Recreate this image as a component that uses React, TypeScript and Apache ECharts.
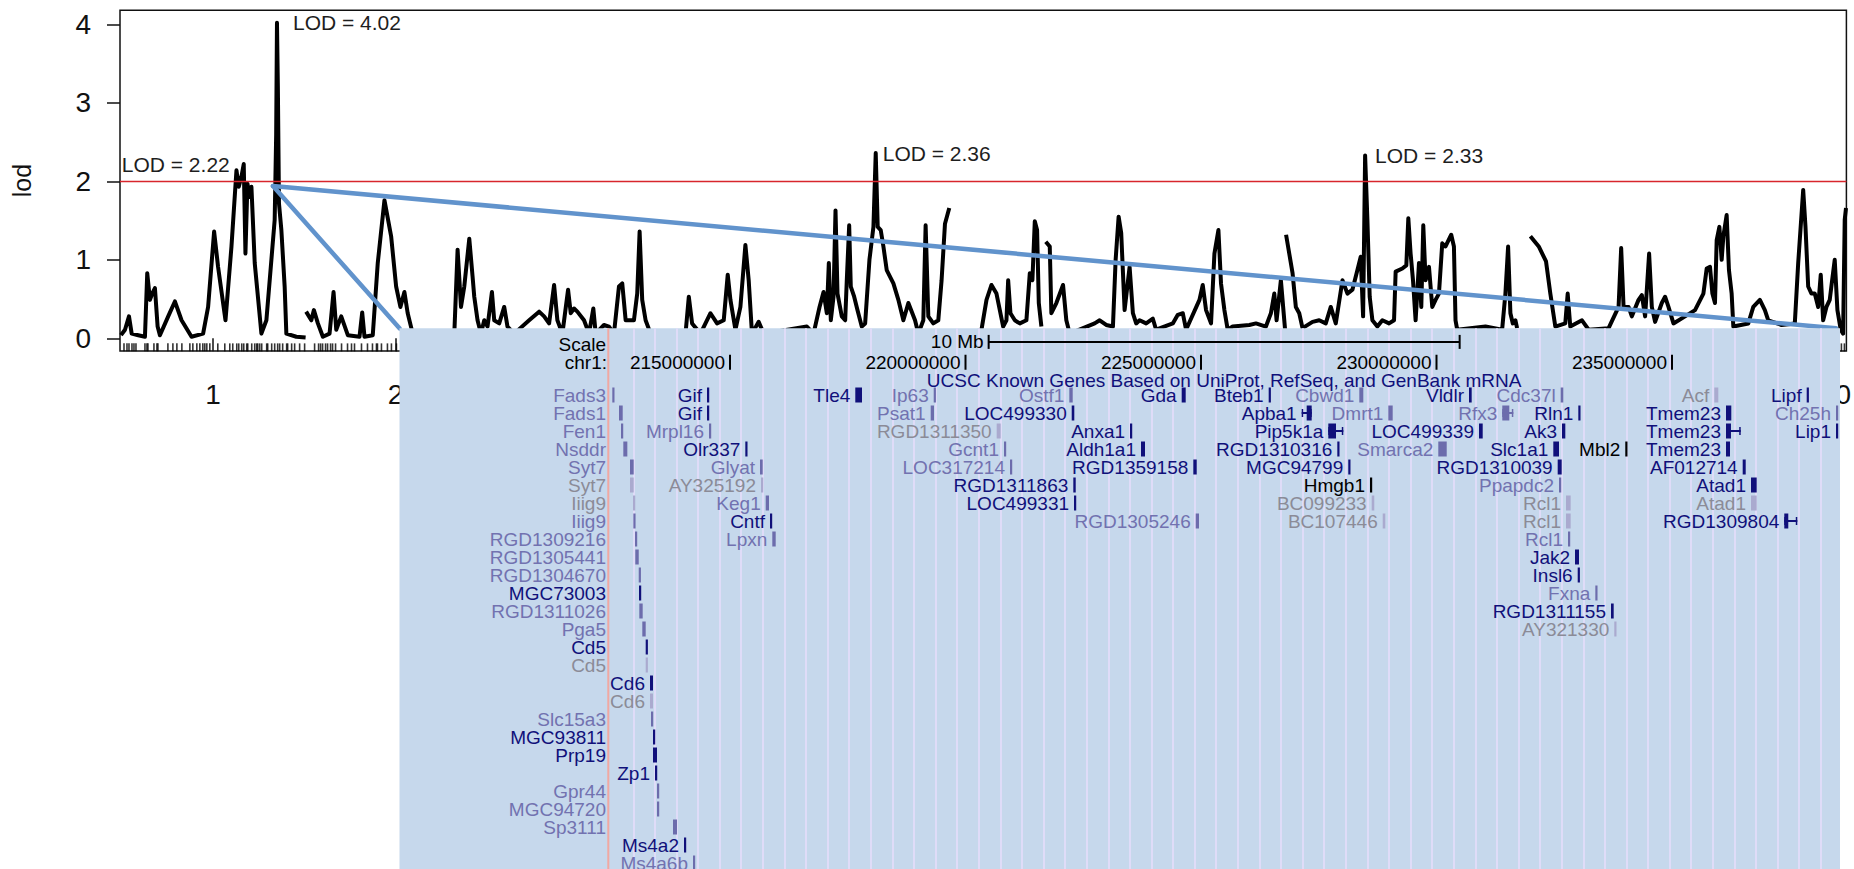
import React, { useEffect, useRef } from "react";
import * as echarts from "echarts";

const FONT = '"Liberation Sans", Arial, Helvetica, sans-serif';

// ---------------- Genome scan: cumulative position (cM) and LOD score ----------------
const lodChr1: number[][] = [
  [1, 0.04], [5, 0.11], [9, 0.28], [11.7, 0.06], [18.3, 0.04], [25, 0.02], [27.3, 0.83], [30, 0.49],
  [32.3, 0.57], [35, 0.64], [37.7, 0.15], [40, 0.04], [48.3, 0.28], [55, 0.47], [61.7, 0.23], [71.7, 0.02],
  [83.3, 0.06], [88.3, 0.4], [94.3, 1.36], [98.3, 0.91], [105.7, 0.23], [111.7, 1.17], [116.7, 2.14],
  [119, 1.93], [121.7, 2.06], [124, 2.22], [125.7, 1.08], [127.7, 1.97], [130, 1.8], [131.7, 1.93],
  [135, 0.96], [141.7, 0.06], [146.7, 0.23], [151.7, 1.0], [155, 1.51], [156.5, 2.6], [157.3, 4.02],
  [158.2, 3.2], [158.8, 2.4], [159.3, 1.72], [161.7, 1.38], [165, 0.66], [166.7, 0.06], [176.7, 0.02],
  [186, 0.01],
];

const lodBlockA: number[][] = [
  [186.5, 0.34], [191.7, 0.23], [194.3, 0.36], [198.3, 0.19], [203.3, 0.02], [210, 0.06], [214, 0.59],
  [216.7, 0.11], [221.7, 0.28], [228.3, 0.04], [240, 0.02], [242.7, 0.33], [245, 0.02], [253.3, 0.04],
  [258.3, 0.96], [265, 1.76], [271.7, 1.3], [276.7, 0.66], [281, 0.4], [285, 0.59], [288.3, 0.32],
  [293.3, 0.06], [315, 0.04], [335, 0.06], [338.3, 1.13], [341.7, 0.4], [345, 0.66], [350, 1.27],
  [353.3, 0.79], [355, 0.53], [358.3, 0.23], [361.7, 0.06], [365, 0.23], [368.3, 0.15], [372.7, 0.59],
  [375, 0.23], [380, 0.19], [385, 0.4], [388.3, 0.15], [395, 0.06], [410, 0.23], [420, 0.34], [425, 0.28],
  [430, 0.19], [435, 0.68], [438.3, 0.23], [443.3, 0.06], [449, 0.62], [451.7, 0.32], [455, 0.38],
  [458.3, 0.34], [465, 0.23], [470, 0.06], [474.3, 0.38], [476.7, 0.06], [485, 0.17], [490, 0.15],
  [495, 0.06], [500, 0.66], [503.3, 0.7], [506.7, 0.23], [515, 0.23], [518.3, 0.57], [520.7, 1.36],
  [523.3, 0.49], [526.7, 0.23], [531.7, 0.06], [566.7, 0.06], [570, 0.53], [573.3, 0.19], [581.7, 0.06],
  [591.7, 0.32], [598.3, 0.19], [605, 0.23], [609, 0.81], [611.7, 0.49], [616.7, 0.11], [621.7, 0.4],
  [626.7, 1.19], [630, 0.74], [633.3, 0.06], [640, 0.21], [645, 0.06], [688.3, 0.15], [695, 0.06],
  [701, 0.4], [705, 0.59], [708.3, 0.32], [710.3, 0.96], [712.3, 0.23], [715, 0.53], [717, 1.63],
  [719, 0.57], [723.3, 0.28], [726.7, 0.23], [728.3, 0.74], [730.7, 1.44], [732.3, 0.66], [735.7, 0.53],
  [739, 0.36], [743.3, 0.15], [746.7, 0.19], [751, 1.0], [755, 1.42], [757.3, 2.36], [759.3, 1.42],
  [762.3, 1.38], [765, 1.17], [768.3, 0.87], [775, 0.7], [780, 0.49], [785, 0.23], [790, 0.45],
  [796.7, 0.23], [800, 0.06], [805, 0.23], [807.3, 1.44], [810, 0.28], [815, 0.19], [820, 0.23],
  [823.3, 0.74], [826.7, 1.46], [831, 1.66],
];

const lodBlockB: number[][] = [
  [835, 0.08], [850, 0.05], [863.3, 0.11], [868.3, 0.49], [873.3, 0.68], [878.3, 0.57], [885, 0.15],
  [888.3, 0.23], [890, 0.74], [892.3, 0.32], [896.7, 0.23], [901.7, 0.19], [908.3, 0.23], [911.7, 0.83],
  [914.3, 0.74], [916.7, 1.49], [919, 1.38], [920.7, 0.45], [923.3, 0.15],
];

const lodBlockC: number[][] = [
  [927.7, 1.23], [931.7, 1.17], [933.3, 0.32], [938.3, 0.45], [945, 0.68], [948.3, 0.23], [951.7, 0.06],
  [976.7, 0.19], [981.7, 0.23], [988.3, 0.17], [995, 0.15], [997.7, 1.0], [1000.7, 1.55], [1003.3, 1.34],
  [1006.7, 0.36], [1011.7, 0.91], [1015, 0.32], [1018.3, 0.19], [1021.7, 0.23], [1028.3, 0.19],
  [1035, 0.25], [1038.3, 0.11], [1055, 0.19], [1060, 0.3], [1065, 0.32], [1068.3, 0.11], [1081.7, 0.49],
  [1085, 0.68], [1088.3, 0.36], [1093.3, 0.19], [1096.7, 1.08], [1100.7, 1.38], [1103.3, 0.7],
  [1106.7, 0.36], [1110, 0.11], [1115, 0.15], [1131.7, 0.17], [1138.3, 0.19], [1148.3, 0.15],
  [1153.3, 0.32], [1156.7, 0.57], [1159, 0.23], [1163.3, 0.74], [1166.7, 0.23], [1167.5, 0.11],
];

const lodBlockD: number[][] = [
  [1168.5, 1.32], [1175, 0.83], [1178.3, 0.4], [1181.7, 0.32], [1185, 0.13], [1195, 0.21], [1201.7, 0.23],
  [1208.3, 0.19], [1213.3, 0.4], [1218.3, 0.19], [1225, 0.74], [1230, 0.57], [1235, 0.62], [1240, 0.87],
  [1243.3, 1.04], [1245.7, 0.28], [1247.7, 2.33], [1250, 1.51], [1252.3, 0.53], [1255, 0.23], [1260, 0.15],
  [1265, 0.23], [1271.7, 0.19], [1276.7, 0.23], [1278.3, 0.85], [1285, 0.89], [1289, 0.93], [1291, 1.53],
  [1293.3, 1.08], [1295.7, 0.74], [1298.3, 0.23], [1301.7, 0.96], [1304, 0.4], [1306, 1.44],
  [1308.3, 0.74], [1311.7, 0.91], [1315, 0.4], [1318.3, 0.49], [1321.7, 0.57], [1325, 1.21],
  [1328.3, 1.17], [1334, 1.32], [1336.7, 1.17], [1338.3, 0.23], [1340, 0.11], [1368.3, 0.15],
  [1385, 0.11], [1388.3, 0.57], [1391, 1.17], [1393.3, 0.32], [1395.7, 0.19], [1398.3, 0.23], [1400, 0.13],
];

const lodBlockE: number[][] = [
  [1413.3, 1.3], [1421.7, 1.17], [1429, 0.98], [1433.3, 0.57], [1438.3, 0.15], [1448.3, 0.19],
  [1450.7, 0.57], [1453.3, 0.15], [1465, 0.23], [1471.7, 0.11], [1491.7, 0.13], [1501.7, 0.4],
  [1504.3, 1.15], [1506.7, 0.4], [1511.7, 0.4], [1515, 0.28], [1521.7, 0.49], [1525, 0.55], [1528.3, 0.28],
  [1532.3, 1.08], [1535, 0.4], [1538.3, 0.21], [1545, 0.45], [1548.3, 0.53], [1551.7, 0.4], [1556.7, 0.19],
  [1568.3, 0.28], [1578.3, 0.36], [1586.7, 0.57], [1590, 0.89], [1593.3, 0.91], [1595.7, 0.57],
  [1598.3, 0.45], [1600, 1.25], [1602.7, 1.42], [1605, 1.0], [1606.7, 1.3], [1610, 1.57], [1612.3, 0.87],
  [1615, 0.57], [1616.7, 0.15], [1631.7, 0.19], [1636.7, 0.4], [1643.3, 0.49], [1648.3, 0.36],
  [1651.7, 0.23], [1665, 0.17], [1678.3, 0.19], [1681.7, 0.96], [1686.7, 1.89], [1689, 1.42],
  [1691.7, 0.66], [1695, 0.57], [1698.3, 0.57], [1701.7, 0.4], [1704.3, 0.81], [1706.7, 0.23], [1710, 0.4],
  [1713.3, 0.49], [1715.7, 0.74], [1718.3, 1.0], [1721, 0.36], [1724.3, 0.11], [1726.7, 0.06],
  [1728.3, 1.51], [1729.6, 1.66],
];

const lodBlocks = [lodChr1, lodBlockA, lodBlockB, lodBlockC, lodBlockD, lodBlockE];

// genotyped marker positions (cM) shown as a rug
const markerPositions = [
  4, 7, 9, 12, 14, 16, 25, 27, 28, 34, 37, 38, 48, 53, 57, 62, 70, 73, 77, 80, 83, 85, 87, 90, 98, 105,
  110, 113, 117, 119, 122, 124, 127, 128, 132, 135, 137, 138, 140, 142, 147, 148, 152, 155, 158, 160, 163,
  167, 168, 172, 175, 180, 185, 195, 199, 201, 203, 206, 208, 211, 213, 216, 222, 228, 232, 235, 242, 248,
  253, 257, 258, 262, 268, 272, 277, 1722, 1725, 1728,
];

// chromosome label positions (cM)
const chromosomeCenters = [93.3, 276, 1719];
const chromosomeNames = ["1", "2", "20"];

const lodTicks = [0, 1, 2, 3, 4];
const lodThreshold = 2;

// annotated peaks [cM, LOD]
const peaks: number[][] = [
  [157.3, 4.02],
  [124, 2.22],
  [757.3, 2.36],
  [1247.7, 2.33],
];
// placement of each peak's text (px offset from the peak, side)
const peakLabelPlacement: [number, "left" | "right"][] = [
  [16, "left"],
  [-14, "right"],
  [7, "left"],
  [10, "left"],
];

// the region of chromosome 1 expanded in the browser panel
const zoomOrigin = [153.3, 1.94];

// ---------------- UCSC browser panel: chr1 window (Mb) ----------------
const windowStartMb = 212.416;
const windowEndMb = 238.567;
const rulerTicksMb = [215, 220, 225, 230, 235];
const scaleBarMb = 10;
const trackTitle = "UCSC Known Genes Based on UniProt, RefSeq, and GenBank mRNA";

// [name, row, txStart, txEnd, tone, cdsStart?, cdsEnd?]  (Mb); tone: k navy, m medium, g grey, b black
type Gene = [string, number, number, number, string, number?, number?];

const genesCd5Cluster: Gene[] = [
  ["Fads3", 1, 212.501, 212.531, "m"], ["Fads1", 2, 212.643, 212.722, "m"], ["Fen1", 3, 212.686, 212.722, "m"],
  ["Nsddr", 4, 212.735, 212.82, "m"], ["Syt7", 5, 212.877, 212.955, "m"], ["Syt7", 6, 212.877, 212.955, "g"],
  ["Iiig9", 7, 212.941, 212.983, "g"], ["Iiig9", 8, 212.948, 212.99, "m"], ["RGD1309216", 9, 212.983, 213.019, "m"],
  ["RGD1305441", 10, 212.989, 213.062, "m"], ["RGD1304670", 11, 213.062, 213.104, "m"],
  ["MGC73003", 12, 213.068, 213.11, "k"], ["RGD1311026", 13, 213.074, 213.146, "m"],
  ["Pga5", 14, 213.138, 213.21, "m"], ["Cd5", 15, 213.21, 213.253, "k"], ["Cd5", 16, 213.21, 213.253, "g"],
  ["Cd6", 17, 213.301, 213.365, "k"], ["Cd6", 18, 213.301, 213.365, "g"], ["Slc15a3", 19, 213.323, 213.365, "m"],
  ["MGC93811", 20, 213.365, 213.408, "k"], ["Prp19", 21, 213.365, 213.45, "k"], ["Zp1", 22, 213.408, 213.45, "k"],
  ["Gpr44", 23, 213.45, 213.493, "m"], ["MGC94720", 24, 213.45, 213.493, "m"], ["Sp3111", 25, 213.79, 213.875, "m"],
  ["Ms4a2", 26, 214.023, 214.066, "k"], ["Ms4a6b", 27, 214.214, 214.257, "m"],
];

const genes214to225: Gene[] = [
  ["Gif", 1, 214.512, 214.554, "k"], ["Gif", 2, 214.512, 214.554, "k"], ["Mrpl16", 3, 214.554, 214.59, "m"],
  ["Olr337", 4, 215.325, 215.361, "k"], ["Glyat", 5, 215.637, 215.694, "m"], ["AY325192", 6, 215.658, 215.694, "g"],
  ["Keg1", 7, 215.758, 215.828, "m"], ["Cntf", 8, 215.849, 215.892, "k"], ["Lpxn", 9, 215.898, 215.97, "m"],
  ["Tle4", 1, 217.66, 217.803, "k"], ["Ip63", 1, 219.325, 219.367, "m"], ["Psat1", 2, 219.261, 219.331, "m"],
  ["RGD1311350", 3, 220.662, 220.747, "g"], ["Gcnt1", 4, 220.817, 220.86, "m"], ["LOC317214", 5, 220.945, 220.987, "m"],
  ["Ostf1", 1, 222.204, 222.276, "m"], ["LOC499330", 2, 222.255, 222.31, "k"], ["RGD1311863", 6, 222.289, 222.34, "k"],
  ["LOC499331", 7, 222.304, 222.346, "k"], ["Anxa1", 3, 223.493, 223.535, "k"], ["Aldh1a1", 4, 223.726, 223.811, "k"],
  ["Gda", 1, 224.59, 224.675, "k"], ["RGD1359158", 5, 224.837, 224.909, "k"], ["RGD1305246", 8, 224.888, 224.958, "m"],
];

const genes226to239: Gene[] = [
  ["Bteb1", 1, 226.437, 226.48, "k"], ["Apba1", 2, 227.138, 227.35, "k", 227.244, 227.35],
  ["Pip5k1a", 3, 227.703, 228.021, "k", 227.703, 227.866], ["RGD1310316", 4, 227.894, 227.936, "k"],
  ["MGC94799", 5, 228.127, 228.17, "k"], ["Cbwd1", 1, 228.361, 228.446, "m"], ["Hmgb1", 6, 228.588, 228.631, "b"],
  ["BC099233", 7, 228.624, 228.679, "g"], ["BC107446", 8, 228.858, 228.913, "g"], ["Dmrt1", 2, 228.977, 229.07, "m"],
  ["Smarca2", 4, 230.038, 230.217, "m"], ["Vldlr", 1, 230.69, 230.747, "k"], ["LOC499339", 3, 230.902, 230.981, "k"],
  ["Rfx3", 2, 231.397, 231.631, "m", 231.397, 231.546], ["Slc1a1", 4, 232.48, 232.601, "k"],
  ["RGD1310039", 5, 232.573, 232.658, "k"], ["Ppapdc2", 6, 232.601, 232.643, "m"], ["Cdc37l", 1, 232.637, 232.692, "m"],
  ["Ak3", 3, 232.665, 232.735, "k"], ["Rcl1", 7, 232.749, 232.849, "g"], ["Rcl1", 8, 232.749, 232.849, "g"],
  ["Rcl1", 9, 232.792, 232.834, "m"], ["Jak2", 10, 232.941, 233.025, "k"], ["Insl6", 11, 232.998, 233.04, "k"],
  ["Rln1", 2, 233.011, 233.053, "k"], ["Fxna", 12, 233.372, 233.414, "m"], ["RGD1311155", 13, 233.705, 233.762, "k"],
  ["AY321330", 14, 233.775, 233.817, "g"], ["Mbl2", 4, 234.008, 234.051, "b"], ["Acf", 1, 235.898, 235.983, "g"],
  ["Tmem23", 2, 236.146, 236.259, "k"], ["Tmem23", 3, 236.146, 236.459, "k", 236.146, 236.252],
  ["Tmem23", 4, 236.146, 236.231, "k"], ["AF012714", 5, 236.501, 236.565, "k"], ["Atad1", 6, 236.677, 236.798, "k"],
  ["Atad1", 7, 236.677, 236.798, "g"], ["RGD1309804", 8, 237.384, 237.66, "k", 237.384, 237.469],
  ["Lipf", 1, 237.86, 237.902, "k"], ["Ch25h", 2, 238.482, 238.524, "m"], ["Lip1", 3, 238.482, 238.524, "k"],
];

const knownGenes: Gene[] = [...genesCd5Cluster, ...genes214to225, ...genes226to239];

const TONES: Record<string, { text: string; bar: string }> = {
  k: { text: "#10107a", bar: "#10107a" },
  m: { text: "#7272b0", bar: "#6c6cac" },
  g: { text: "#8b8b97", bar: "#aaaacf" },
  b: { text: "#000000", bar: "#000000" },
};

// ---------------- layout ----------------
const W = 1854;
const H = 869;
const PLOT = { left: 120, top: 10.2, width: 1730, height: 340.7 };
const PANEL = { left: 399.5, top: 328.3, right: 1840 };
const TRACK_LEFT = 608.3; // left edge of the browser's data area
const SIDE_LABEL_RIGHT = 606; // right edge of the side label column
const GUIDE_FIRST = 611.7;
const GUIDE_STEP = 21.59;
const ROW_MIN = -2.7056;
const ROW_MAX = 27.333;
const SCALE_ROW = -1.95;
const RULER_ROW = -0.82;
const TITLE_ROW = 0.21;
const BAR_H = 15;

const measureCtx = typeof document !== "undefined" ? document.createElement("canvas").getContext("2d") : null;
function textWidth(s: string, size: number) {
  if (!measureCtx) return s.length * size * 0.55;
  measureCtx.font = `${size}px "Liberation Sans", Arial, sans-serif`;
  return measureCtx.measureText(s).width;
}

function buildOption(): any {
  const lineSeries = lodBlocks.map((block, i) => ({
    type: "line",
    xAxisIndex: 0,
    yAxisIndex: 0,
    data: block,
    symbol: "none",
    showSymbol: false,
    silent: true,
    z: 2,
    lineStyle: { color: "#000", width: 4, join: "round" },
    markLine:
      i === 0
        ? {
            silent: true,
            symbol: ["none", "none"],
            label: { show: false },
            lineStyle: { color: "#d8262c", width: 1.4, type: "solid" },
            data: [{ yAxis: lodThreshold }],
          }
        : undefined,
  }));

  return {
    animation: false,
    backgroundColor: "#ffffff",
    grid: [
      { left: PLOT.left, top: PLOT.top, width: PLOT.width, height: PLOT.height, show: true, borderColor: "#111", borderWidth: 1.5, backgroundColor: "#fff" },
      { left: GUIDE_FIRST, top: PANEL.top, width: PANEL.right - GUIDE_FIRST, height: H - PANEL.top },
      { left: TRACK_LEFT, top: PANEL.top, width: PANEL.right - TRACK_LEFT, height: H - PANEL.top },
    ],
    xAxis: [
      {
        gridIndex: 0,
        type: "value",
        min: 0,
        max: 1730,
        axisLine: { show: false },
        splitLine: { show: false },
        axisTick: { show: true, customValues: chromosomeCenters, length: 13, lineStyle: { color: "#111", width: 1.5 } },
        axisLabel: {
          show: true,
          customValues: chromosomeCenters,
          formatter: (v: number) => chromosomeNames[chromosomeCenters.indexOf(v)] ?? "",
          fontSize: 28,
          fontFamily: FONT,
          color: "#111",
          margin: 30,
        },
      },
      {
        gridIndex: 1,
        type: "value",
        min: 0,
        max: (PANEL.right - GUIDE_FIRST) / GUIDE_STEP,
        interval: 1,
        z: 10,
        axisLine: { show: false },
        axisTick: { show: false },
        axisLabel: { show: false },
        splitLine: { show: true, showMinLine: false, showMaxLine: false, lineStyle: { color: "#dfdcf8", width: 2 } },
      },
      { gridIndex: 2, type: "value", min: windowStartMb, max: windowEndMb, show: false },
    ],
    yAxis: [
      {
        gridIndex: 0,
        type: "value",
        min: -0.16,
        max: 4.18,
        axisLine: { show: false },
        splitLine: { show: false },
        axisTick: { show: true, customValues: lodTicks, length: 13, lineStyle: { color: "#111", width: 1.5 } },
        axisLabel: { show: true, customValues: lodTicks, fontSize: 28, fontFamily: FONT, color: "#111", margin: 29 },
        name: "lod",
        nameLocation: "middle",
        nameGap: 86,
        nameTextStyle: { fontSize: 25, fontFamily: FONT, color: "#111" },
      },
      { gridIndex: 1, type: "value", min: 0, max: 1, show: false },
      { gridIndex: 2, type: "value", min: ROW_MIN, max: ROW_MAX, inverse: true, show: false },
    ],
    graphic: [
      {
        type: "rect",
        z: 9,
        silent: true,
        shape: { x: PANEL.left, y: PANEL.top, width: PANEL.right - PANEL.left, height: H - PANEL.top + 2 },
        style: { fill: "#c6d8ec" },
      },
      {
        type: "line",
        z: 11,
        silent: true,
        shape: { x1: TRACK_LEFT, y1: PANEL.top, x2: TRACK_LEFT, y2: H + 2 },
        style: { stroke: "#f1a8a2", lineWidth: 2 },
      },
    ],
    series: [
      ...lineSeries,
      {
        type: "scatter",
        xAxisIndex: 0,
        yAxisIndex: 0,
        silent: true,
        z: 3,
        symbol: "rect",
        symbolSize: [1.6, 8],
        itemStyle: { color: "#000" },
        data: markerPositions.map((x) => [x, -0.115]),
      },
      {
        // peak annotations
        type: "custom",
        xAxisIndex: 0,
        yAxisIndex: 0,
        silent: true,
        z: 4,
        data: peaks,
        renderItem: (params: any, api: any) => {
          const [x, y] = api.coord([api.value(0), api.value(1)]);
          const [dx, align] = peakLabelPlacement[params.dataIndex];
          return {
            type: "text",
            style: {
              text: `LOD = ${Number(api.value(1)).toFixed(2)}`,
              x: x + dx,
              y,
              align,
              verticalAlign: "middle",
              fontSize: 21,
              fontFamily: FONT,
              fill: "#1e1e1e",
            },
          };
        },
      },
      {
        // lines joining the expanded region to the browser panel
        type: "custom",
        xAxisIndex: 0,
        yAxisIndex: 0,
        silent: true,
        z: 5,
        data: [zoomOrigin],
        renderItem: (_params: any, api: any) => {
          const [x, y] = api.coord([api.value(0), api.value(1)]);
          const style = { stroke: "#6193cc", lineWidth: 4.5, lineCap: "round" };
          return {
            type: "group",
            children: [
              { type: "line", shape: { x1: x, y1: y, x2: PANEL.left, y2: PANEL.top }, style },
              { type: "line", shape: { x1: x, y1: y, x2: PANEL.right - 4, y2: PANEL.top }, style },
            ],
          };
        },
      },
      {
        // base-position ruler
        type: "custom",
        xAxisIndex: 2,
        yAxisIndex: 2,
        silent: true,
        z: 20,
        data: rulerTicksMb.map((v) => [v]),
        renderItem: (_params: any, api: any) => {
          const v = api.value(0);
          const [x, y] = api.coord([v, RULER_ROW]);
          return {
            type: "group",
            children: [
              { type: "rect", shape: { x: x - 1, y: y - 7.5, width: 2, height: 15 }, style: { fill: "#000" } },
              {
                type: "text",
                style: { text: String(Math.round(v * 1e6)), x: x - 5, y, align: "right", verticalAlign: "middle", fontSize: 19, fontFamily: FONT, fill: "#000" },
              },
            ],
          };
        },
      },
      {
        // scale bar, centred in the window
        type: "custom",
        xAxisIndex: 2,
        yAxisIndex: 2,
        silent: true,
        z: 20,
        data: [[(windowStartMb + windowEndMb - scaleBarMb) / 2, (windowStartMb + windowEndMb + scaleBarMb) / 2]],
        renderItem: (_params: any, api: any) => {
          const [x0, y] = api.coord([api.value(0), SCALE_ROW]);
          const [x1] = api.coord([api.value(1), SCALE_ROW]);
          const [, yScale] = api.coord([api.value(0), -1.83]);
          const [, yChr] = api.coord([api.value(0), RULER_ROW]);
          const [, yTitle] = api.coord([api.value(0), TITLE_ROW]);
          const trackMid = (TRACK_LEFT + PANEL.right) / 2;
          const txt = (text: string, x: number, yy: number, align: string, fill = "#000") => ({
            type: "text",
            style: { text, x, y: yy, align, verticalAlign: "middle", fontSize: 19, fontFamily: FONT, fill },
          });
          return {
            type: "group",
            children: [
              { type: "rect", shape: { x: x0, y: y - 1, width: x1 - x0, height: 2 }, style: { fill: "#000" } },
              { type: "rect", shape: { x: x0 - 1, y: y - 7, width: 2, height: 14 }, style: { fill: "#000" } },
              { type: "rect", shape: { x: x1 - 1, y: y - 7, width: 2, height: 14 }, style: { fill: "#000" } },
              txt(`${scaleBarMb} Mb`, x0 - 5, y, "right"),
              txt("Scale", SIDE_LABEL_RIGHT, yScale, "right"),
              txt("chr1:", SIDE_LABEL_RIGHT + 1, yChr, "right"),
              txt(trackTitle, trackMid, yTitle, "center", "#10107a"),
            ],
          };
        },
      },
      {
        // gene models with names
        type: "custom",
        xAxisIndex: 2,
        yAxisIndex: 2,
        silent: true,
        z: 20,
        encode: { x: [0, 2], y: 1 },
        data: knownGenes.map((g) => [g[2], g[1], g[3]]),
        renderItem: (params: any, api: any) => {
          const g = knownGenes[params.dataIndex];
          const [name, row, s, e, tone, cs, ce] = g;
          const tc = TONES[tone];
          const [xs, yc] = api.coord([s, row]);
          const xe = Math.max(api.coord([e, row])[0], xs + 2.2);
          const children: any[] = [];
          if (cs != null && ce != null) {
            const xcs = api.coord([cs, row])[0];
            const xce = Math.max(api.coord([ce, row])[0], xcs + 2.2);
            children.push({ type: "rect", shape: { x: xs, y: yc - 1, width: xe - xs, height: 2 }, style: { fill: tc.bar } });
            children.push({ type: "rect", shape: { x: xs, y: yc - 4, width: 1.5, height: 8 }, style: { fill: tc.bar } });
            children.push({ type: "rect", shape: { x: xe - 1.5, y: yc - 4, width: 1.5, height: 8 }, style: { fill: tc.bar } });
            children.push({ type: "rect", shape: { x: xcs, y: yc - BAR_H / 2, width: xce - xcs, height: BAR_H }, style: { fill: tc.bar } });
          } else {
            children.push({ type: "rect", shape: { x: xs, y: yc - BAR_H / 2, width: xe - xs, height: BAR_H }, style: { fill: tc.bar } });
          }
          let right = xs - 5;
          if (right - textWidth(name, 19) < TRACK_LEFT) right = SIDE_LABEL_RIGHT;
          children.push({
            type: "text",
            style: { text: name, x: right, y: yc, align: "right", verticalAlign: "middle", fontSize: 19, fontFamily: FONT, fill: tc.text },
          });
          return { type: "group", children };
        },
      },
    ],
  };
}

export default function App() {
  const ref = useRef<HTMLDivElement>(null);
  useEffect(() => {
    document.body.style.margin = "0";
    const chart = echarts.init(ref.current!, null, { renderer: "svg" });
    chart.setOption(buildOption());
    return () => chart.dispose();
  }, []);
  return <div ref={ref} style={{ position: "absolute", left: 0, top: 0, width: W, height: H, overflow: "hidden" }} />;
}
